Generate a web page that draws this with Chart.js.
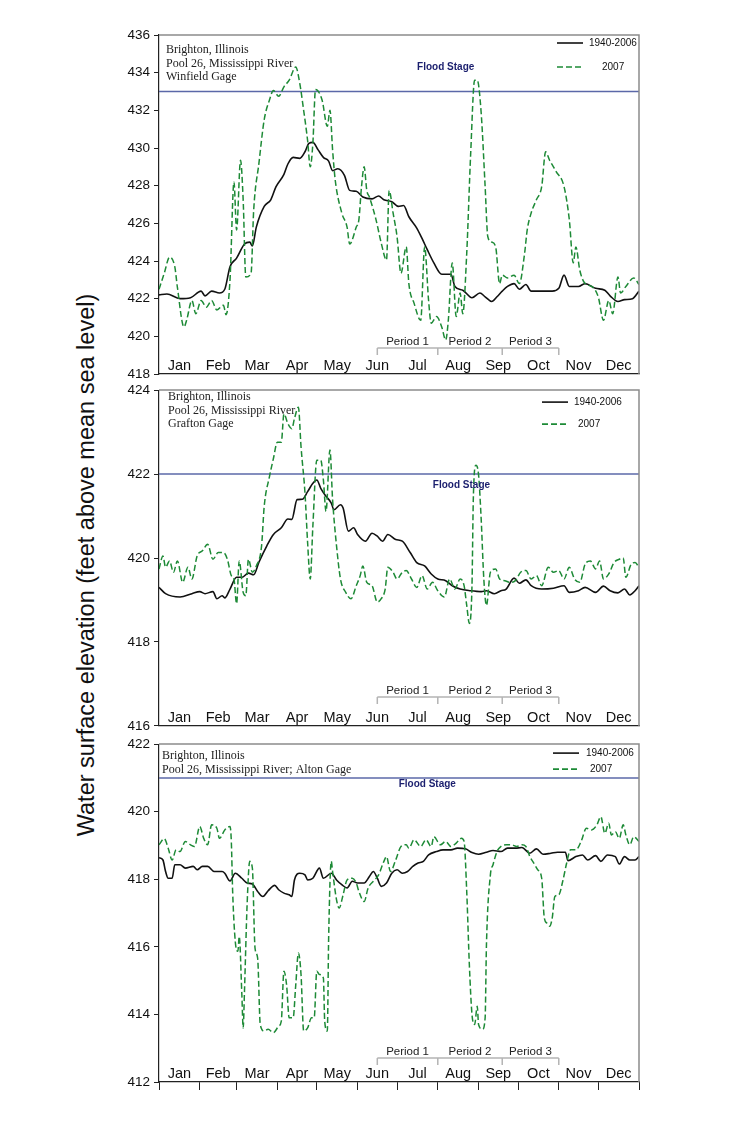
<!DOCTYPE html>
<html>
<head>
<meta charset="utf-8">
<script src="https://cdn.jsdelivr.net/npm/chart.js@4.4.1/dist/chart.umd.min.js"></script>
<style>
  body { margin: 0; background: #fff; width: 740px; height: 1144px; position: relative; overflow: hidden; }
  canvas { position: absolute; left: 0; }
  #ytitle {
    position: absolute; left: 86px; top: 565px;
    transform: translate(-50%, -50%) rotate(-90deg);
    white-space: nowrap; font: 23.5px "Liberation Sans", Arial, sans-serif; color: #111;
  }
</style>
</head>
<body>
<div id="ytitle">Water surface elevation (feet above mean sea level)</div>
<canvas id="c1" width="740" height="370" style="top:20px"></canvas>
<canvas id="c2" width="740" height="360" style="top:378px"></canvas>
<canvas id="c3" width="740" height="380" style="top:732px"></canvas>
<script>
const SANS = '"Liberation Sans", Arial, sans-serif';
const SERIF = '"Liberation Serif", "Times New Roman", serif';

const months = ["Jan", "Feb", "Mar", "Apr", "May", "Jun", "Jul", "Aug", "Sep", "Oct", "Nov", "Dec"];
const monthStarts = [0, 31, 59, 90, 120, 151, 181, 212, 243, 273, 304, 334, 365];
const periodLabels = ["Period 1", "Period 2", "Period 3"];
const periodBounds = [166, 212, 261, 304];
const legendLabels = ["1940-2006", "2007"];

// Winfield gage (panel 1)
const winfieldAvgDays = [0, 6, 16, 24, 32, 35, 40, 46, 50, 54, 59, 65, 69, 71, 74, 80, 85, 89, 95, 98, 102, 107, 111, 114, 117, 121, 125, 129, 132, 136, 141, 145, 150, 155, 162, 167, 171, 177, 182, 186, 190, 196, 200, 204, 209, 215, 222, 225, 231, 238, 244, 248, 253, 257, 261, 265, 270, 274, 279, 283, 291, 299, 304, 308, 312, 319, 324, 332, 339, 343, 349, 354, 360, 365];
const winfieldAvg = [422.2, 422.25, 422.0, 422.05, 422.4, 422.15, 422.4, 422.3, 422.5, 423.7, 424.15, 424.9, 425.0, 424.8, 425.8, 426.9, 427.25, 427.95, 428.6, 429.15, 429.5, 429.45, 429.8, 430.25, 430.3, 429.9, 429.5, 429.3, 428.8, 428.9, 428.55, 427.75, 427.7, 427.4, 427.3, 427.45, 427.25, 427.15, 426.9, 426.95, 426.35, 425.75, 425.2, 424.6, 423.9, 423.3, 423.3, 422.65, 422.45, 422.05, 422.3, 422.1, 421.85, 422.1, 422.4, 422.65, 422.8, 422.5, 422.75, 422.4, 422.4, 422.4, 422.55, 423.25, 422.65, 422.65, 422.8, 422.55, 422.45, 422.15, 421.85, 421.95, 422.0, 422.4];
const winfield07Days = [0, 4, 8, 12, 14, 19, 21, 25, 28, 32, 36, 40, 44, 49, 51, 54, 57, 59, 62, 64, 66, 70, 72, 76, 80, 84, 87, 91, 95, 99, 104, 107, 110, 113, 115, 117, 119, 124, 128, 130, 132, 134, 139, 143, 145, 150, 152, 154, 156, 158, 160, 165, 169, 173, 175, 178, 181, 184, 188, 190, 194, 199, 202, 205, 207, 211, 215, 218, 220, 223, 226, 229, 231, 234, 237, 240, 242, 245, 248, 250, 253, 256, 259, 261, 265, 270, 274, 278, 280, 283, 287, 291, 294, 297, 302, 308, 312, 315, 317, 320, 324, 329, 334, 338, 342, 345, 349, 351, 355, 361, 365];
const winfield07 = [422.5, 423.35, 424.2, 423.7, 422.6, 420.5, 420.85, 421.9, 421.2, 421.9, 421.55, 421.9, 421.4, 421.65, 421.15, 423.0, 428.2, 425.65, 429.35, 427.25, 423.15, 423.35, 426.7, 429.2, 431.5, 432.55, 433.05, 432.75, 433.25, 433.6, 434.3, 433.45, 432.0, 430.4, 429.0, 430.25, 433.1, 432.55, 431.15, 432.0, 429.9, 428.3, 426.55, 425.8, 424.9, 425.8, 426.2, 427.95, 429.0, 427.75, 427.4, 426.2, 424.95, 424.05, 427.75, 426.55, 425.3, 423.35, 424.75, 422.8, 421.75, 420.85, 424.75, 421.9, 420.7, 421.05, 420.5, 419.8, 420.85, 423.9, 421.05, 422.3, 421.2, 424.4, 429.7, 433.6, 433.6, 431.85, 427.95, 425.3, 425.0, 424.75, 422.8, 423.25, 423.1, 423.25, 422.8, 424.4, 425.65, 426.55, 427.25, 427.95, 429.8, 429.35, 428.75, 427.95, 426.2, 423.9, 424.75, 423.5, 422.8, 422.65, 422.1, 420.85, 421.9, 421.2, 423.15, 422.3, 422.65, 423.1, 422.75];

// Grafton gage (panel 2)
const graftonAvgDays = [0, 5, 16, 25, 31, 35, 41, 44, 48, 50, 54, 59, 63, 68, 72, 76, 82, 87, 93, 98, 101, 105, 109, 113, 117, 120, 123, 127, 131, 133, 138, 140, 144, 148, 151, 157, 162, 166, 170, 174, 180, 185, 191, 196, 202, 207, 212, 218, 223, 229, 237, 245, 249, 255, 260, 264, 270, 274, 279, 283, 291, 300, 308, 312, 319, 324, 332, 338, 343, 349, 354, 358, 362, 365];
const graftonAvg = [419.3, 419.15, 419.07, 419.15, 419.2, 419.15, 419.2, 419.03, 419.1, 419.05, 419.26, 419.54, 419.54, 419.64, 419.6, 419.9, 420.29, 420.56, 420.72, 420.93, 420.92, 421.39, 421.4, 421.58, 421.78, 421.86, 421.66, 421.47, 421.31, 421.15, 421.27, 421.19, 420.64, 420.72, 420.56, 420.4, 420.59, 420.52, 420.4, 420.56, 420.44, 420.4, 420.13, 419.89, 419.81, 419.62, 419.5, 419.46, 419.34, 419.26, 419.22, 419.2, 419.22, 419.15, 419.22, 419.26, 419.52, 419.4, 419.48, 419.34, 419.26, 419.28, 419.34, 419.18, 419.22, 419.3, 419.18, 419.33, 419.22, 419.17, 419.26, 419.12, 419.22, 419.34];
const grafton07Days = [0, 3, 5, 8, 11, 14, 18, 22, 25, 29, 33, 37, 41, 45, 49, 52, 55, 57, 59, 61, 64, 66, 68, 71, 74, 78, 80, 84, 87, 90, 93, 95, 98, 101, 103, 106, 108, 111, 113, 115, 117, 120, 123, 125, 127, 130, 132, 135, 138, 142, 146, 150, 153, 155, 158, 162, 166, 169, 172, 174, 178, 181, 185, 188, 192, 196, 200, 204, 208, 212, 217, 221, 225, 229, 232, 234, 236, 238, 239, 241, 243, 245, 247, 249, 252, 256, 259, 263, 267, 271, 275, 279, 283, 287, 291, 296, 300, 304, 308, 312, 316, 320, 324, 328, 332, 335, 338, 342, 346, 350, 353, 355, 359, 362, 365];
const grafton07 = [419.74, 420.05, 419.78, 419.93, 419.66, 419.93, 419.42, 419.78, 419.5, 420.05, 420.17, 420.33, 419.97, 420.13, 420.13, 419.97, 419.58, 419.5, 418.91, 419.93, 419.18, 419.1, 419.97, 419.66, 419.81, 420.29, 421.23, 421.94, 422.37, 422.76, 422.76, 423.43, 423.2, 423.08, 423.32, 423.59, 422.65, 421.55, 420.37, 419.5, 420.76, 422.33, 422.33, 421.86, 421.11, 422.57, 421.39, 420.29, 419.5, 419.18, 419.03, 419.34, 419.58, 419.81, 419.42, 419.34, 418.95, 419.03, 419.26, 419.78, 419.66, 419.5, 419.66, 419.7, 419.5, 419.3, 419.58, 419.26, 419.42, 419.22, 419.07, 419.5, 419.26, 419.5, 419.34, 418.87, 418.44, 419.34, 421.39, 422.21, 421.98, 420.92, 419.5, 418.87, 419.66, 419.74, 419.5, 419.46, 419.42, 419.46, 419.66, 419.7, 419.5, 419.58, 419.34, 419.78, 419.66, 419.7, 419.5, 419.78, 419.5, 419.42, 419.85, 419.93, 419.74, 419.93, 419.5, 419.62, 419.89, 419.97, 420.0, 419.54, 419.85, 419.89, 419.78];

// Alton gage (panel 3)
const altonAvgDays = [0, 3, 5, 7, 10, 12, 16, 20, 26, 29, 33, 37, 42, 48, 50, 54, 58, 63, 67, 71, 75, 79, 83, 88, 91, 95, 99, 101, 103, 107, 111, 113, 117, 122, 125, 131, 135, 139, 143, 147, 151, 156, 160, 163, 166, 169, 173, 177, 181, 185, 189, 193, 197, 201, 205, 211, 216, 222, 227, 233, 238, 243, 249, 254, 260, 265, 271, 276, 282, 287, 292, 298, 303, 309, 311, 317, 322, 326, 332, 336, 341, 347, 350, 354, 358, 362, 365];
const altonAvg = [418.64, 418.57, 418.23, 418.03, 418.03, 418.43, 418.43, 418.33, 418.38, 418.28, 418.38, 418.38, 418.23, 418.23, 418.18, 417.95, 418.18, 418.03, 417.89, 417.86, 417.64, 417.49, 417.66, 417.82, 417.69, 417.59, 417.54, 417.49, 417.98, 418.18, 418.13, 417.98, 418.03, 418.33, 418.03, 418.18, 417.98, 417.84, 417.74, 417.94, 417.89, 417.89, 418.08, 418.23, 418.03, 417.79, 417.89, 418.18, 418.28, 418.18, 418.23, 418.38, 418.48, 418.53, 418.72, 418.82, 418.87, 418.87, 418.92, 418.9, 418.79, 418.74, 418.8, 418.85, 418.82, 418.92, 418.92, 418.94, 418.77, 418.9, 418.74, 418.77, 418.8, 418.8, 418.55, 418.67, 418.72, 418.57, 418.7, 418.53, 418.72, 418.67, 418.45, 418.67, 418.57, 418.57, 418.67];
const alton07Days = [0, 4, 7, 10, 13, 16, 20, 24, 27, 31, 34, 37, 40, 44, 46, 50, 54, 55, 56, 58, 60, 61, 63, 64, 65, 67, 69, 71, 73, 75, 77, 80, 83, 87, 91, 93, 95, 97, 99, 102, 104, 106, 108, 110, 113, 116, 118, 120, 122, 125, 126, 128, 129, 131, 132, 135, 137, 140, 143, 147, 150, 152, 156, 159, 163, 167, 171, 173, 176, 180, 184, 188, 190, 194, 199, 203, 207, 209, 214, 218, 222, 226, 230, 232, 234, 236, 238, 240, 242, 243, 246, 248, 249, 252, 254, 257, 260, 264, 268, 272, 276, 279, 282, 285, 288, 291, 293, 295, 297, 299, 301, 304, 307, 310, 313, 317, 321, 325, 329, 333, 336, 339, 342, 344, 347, 350, 353, 355, 358, 361, 365];
const alton07 = [419.02, 419.2, 418.92, 418.57, 418.87, 418.82, 419.12, 419.02, 418.97, 419.56, 419.21, 419.02, 419.61, 419.51, 419.21, 419.46, 419.56, 419.12, 417.64, 416.16, 415.87, 416.31, 414.59, 413.6, 414.69, 417.25, 418.53, 418.33, 415.97, 415.67, 413.7, 413.51, 413.56, 413.46, 413.65, 413.8, 415.28, 414.88, 413.9, 413.9, 414.88, 415.82, 415.18, 413.51, 413.6, 413.9, 413.9, 415.28, 415.18, 415.08, 413.8, 413.51, 416.26, 418.53, 418.23, 417.39, 417.15, 417.54, 417.98, 418.03, 417.89, 417.64, 417.34, 417.74, 417.94, 418.13, 418.53, 418.67, 418.23, 418.57, 418.97, 419.02, 418.92, 419.17, 418.97, 419.17, 418.97, 419.26, 419.02, 419.12, 418.97, 419.07, 419.21, 419.12, 417.64, 415.47, 414.0, 413.7, 414.24, 413.7, 413.56, 413.9, 416.06, 418.13, 418.43, 418.82, 418.97, 419.02, 419.02, 418.97, 419.02, 418.97, 418.67, 418.48, 418.28, 418.03, 416.85, 416.7, 416.61, 416.85, 417.49, 417.54, 417.94, 418.48, 418.87, 418.87, 419.12, 419.51, 419.46, 419.61, 419.85, 419.36, 419.66, 419.31, 419.41, 419.21, 419.61, 419.31, 419.02, 419.26, 419.12];

const floodStages = [433, 422, 421];

const pairs = (xs, ys) => xs.map((d, i) => ({ x: d, y: ys[i] }));

const decor = {
  id: "decor",
  afterDraw(chart, args, o) {
    const { ctx, chartArea: a, scales: { x, y } } = chart;
    ctx.save();

    // grey frame top/right
    ctx.strokeStyle = "#8c8c8c"; ctx.lineWidth = 1.5;
    ctx.beginPath();
    ctx.moveTo(a.left, a.top); ctx.lineTo(a.right, a.top); ctx.lineTo(a.right, a.bottom);
    ctx.stroke();

    // month labels inside the plot
    ctx.fillStyle = "#111"; ctx.font = "14.5px " + SANS;
    ctx.textAlign = "center"; ctx.textBaseline = "middle";
    months.forEach((m, i) => {
      ctx.fillText(m, x.getPixelForValue((monthStarts[i] + monthStarts[i + 1]) / 2), a.bottom - 8);
    });

    // period brackets
    const ly = a.bottom - o.bracket;
    const px = periodBounds.map(d => x.getPixelForValue(d));
    ctx.strokeStyle = "#b4b4b4"; ctx.lineWidth = 1.5;
    ctx.beginPath();
    ctx.moveTo(px[0], ly); ctx.lineTo(px[px.length - 1], ly);
    px.forEach(p => { ctx.moveTo(p, ly); ctx.lineTo(p, ly + 7); });
    ctx.stroke();
    ctx.fillStyle = "#222"; ctx.font = "11.5px " + SANS; ctx.textBaseline = "alphabetic";
    periodLabels.forEach((t, i) => ctx.fillText(t, (px[i] + px[i + 1]) / 2, ly - 3));

    // flood stage label
    ctx.fillStyle = "#1b1f6e"; ctx.font = "bold 10px " + SANS; ctx.textBaseline = "middle";
    ctx.fillText("Flood Stage", x.getPixelForValue(o.floodDay), y.getPixelForValue(o.flood) + o.floodDy);

    // location text
    ctx.fillStyle = "#222"; ctx.font = "12px " + SERIF; ctx.textAlign = "left";
    o.location.forEach((t, i) => ctx.fillText(t, o.locX, a.top + o.locY + i * 13.5));

    // legend
    const lg = o.legend;
    ctx.font = "10px " + SANS;
    ctx.lineWidth = 1.6;
    ctx.strokeStyle = "#111"; ctx.setLineDash([]);
    ctx.beginPath(); ctx.moveTo(a.right - lg.x0, a.top + lg.y[0]); ctx.lineTo(a.right - lg.x1, a.top + lg.y[0]); ctx.stroke();
    ctx.strokeStyle = "#1d8a36"; ctx.setLineDash([6, 3]);
    ctx.beginPath(); ctx.moveTo(a.right - lg.x0, a.top + lg.y[1]); ctx.lineTo(a.right - lg.x1, a.top + lg.y[1]); ctx.stroke();
    ctx.setLineDash([]);
    ctx.fillStyle = "#111";
    ctx.fillText(legendLabels[0], a.right - lg.t[0], a.top + lg.y[0]);
    ctx.fillText(legendLabels[1], a.right - lg.t[1], a.top + lg.y[1]);

    ctx.restore();
  }
};

function makePanel(id, avgDays, avg, d07Days, d07, yMin, yMax, flood, pad, showTicks, deco) {
  return new Chart(document.getElementById(id), {
    type: "line",
    data: {
      datasets: [
        { label: "2007", data: pairs(d07Days, d07), borderColor: "#1d8a36", borderWidth: 1.5,
          borderDash: [6, 3], pointRadius: 0, cubicInterpolationMode: "monotone" },
        { label: "1940-2006", data: pairs(avgDays, avg), borderColor: "#111", borderWidth: 1.6,
          pointRadius: 0, cubicInterpolationMode: "monotone" },
        { label: "Flood Stage", data: [{ x: 0, y: flood }, { x: 365, y: flood }],
          borderColor: "#5b68a8", borderWidth: 1.5, pointRadius: 0 }
      ]
    },
    options: {
      responsive: false, animation: false, events: [],
      layout: { padding: { left: 0, right: 101, top: pad[0], bottom: pad[1] } },
      scales: {
        x: {
          type: "linear", min: 0, max: 365,
          afterBuildTicks(s) { s.ticks = monthStarts.map(v => ({ value: v })); },
          ticks: { display: false },
          grid: { display: showTicks, drawOnChartArea: false, drawTicks: true, tickLength: 8, color: "#222" },
          border: { display: true, color: "#222", width: 1.2 },
          afterFit(s) { s.height = showTicks ? 8 : 0; }
        },
        y: {
          min: yMin, max: yMax,
          ticks: { stepSize: 2, autoSkip: false, color: "#111", padding: 4, font: { size: 13.5, family: SANS } },
          grid: { drawOnChartArea: false, drawTicks: true, tickLength: 5, color: "#222" },
          border: { color: "#222", width: 1.2 },
          afterFit(s) { s.width = 159; }
        }
      },
      plugins: { legend: { display: false }, tooltip: { enabled: false }, decor: deco }
    },
    plugins: [decor]
  });
}

makePanel("c1", winfieldAvgDays, winfieldAvg, winfield07Days, winfield07, 418, 436, floodStages[0], [15, 16], false, {
  flood: floodStages[0], floodDay: 218, floodDy: -24, bracket: 26,
  location: ["Brighton, Illinois", "Pool 26, Mississippi River", "Winfield Gage"], locX: 166, locY: 15,
  legend: { x0: 82, x1: 56, t: [50, 37], y: [8, 32] }
});
makePanel("c2", graftonAvgDays, graftonAvg, grafton07Days, grafton07, 416, 424, floodStages[1], [11, 10], false, {
  flood: floodStages[1], floodDay: 230, floodDy: 11, bracket: 29,
  location: ["Brighton, Illinois", "Pool 26, Mississippi River", "Grafton Gage"], locX: 168, locY: 7,
  legend: { x0: 97, x1: 71, t: [65, 61], y: [12, 34] }
});
makePanel("c3", altonAvgDays, altonAvg, alton07Days, alton07, 412, 422, floodStages[2], [10, 22], true, {
  flood: floodStages[2], floodDay: 204, floodDy: 6, bracket: 24,
  location: ["Brighton, Illinois", "Pool 26, Mississippi River; Alton Gage"], locX: 162, locY: 12,
  legend: { x0: 86, x1: 60, t: [53, 49], y: [9, 25] }
});
</script>
</body>
</html>
